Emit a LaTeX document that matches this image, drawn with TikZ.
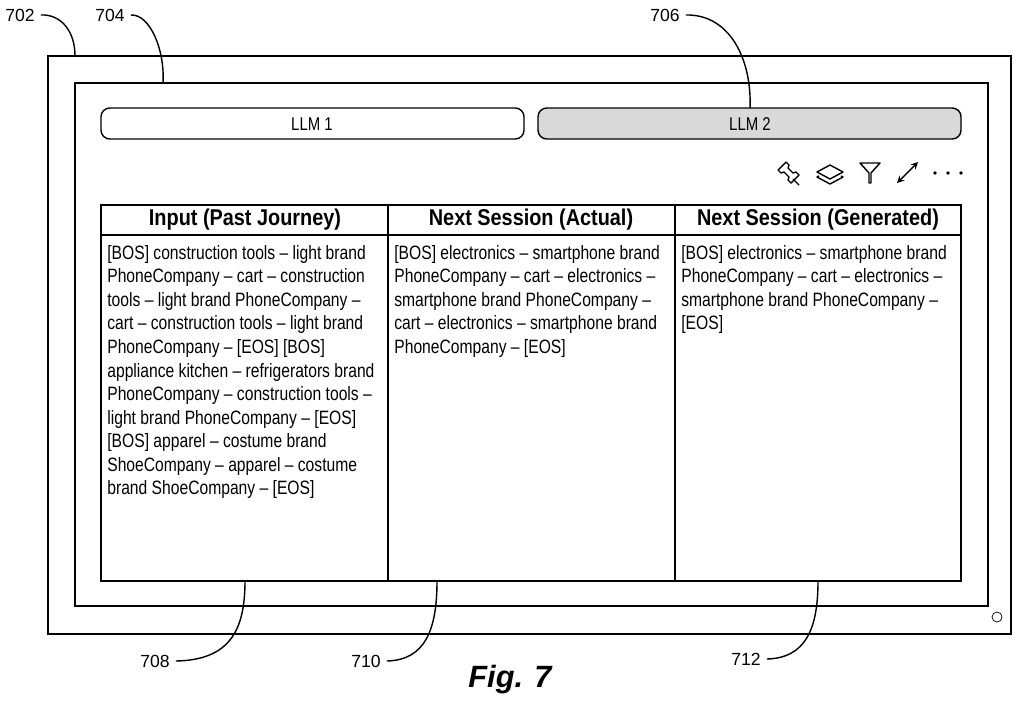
\documentclass[tikz,border=0pt]{standalone}
\usepackage{fontspec}
\setmainfont{Liberation Sans}
\newfontfamily\narrowfont{Liberation Sans}[FakeStretch=0.81, Ligatures=TeX]
\newfontfamily\headfont{Liberation Sans}[FakeStretch=0.87, Ligatures=TeX]
\tikzset{
  cell/.style = {anchor=north west, align=left, inner sep=0pt, font=\narrowfont\fontsize{11}{13.4}\selectfont},
  head/.style = {font=\headfont\fontsize{13}{15}\selectfont\bfseries},
  refnum/.style = {font=\fontsize{10}{12}\selectfont},
  leader/.style = {thick}
}
\begin{document}
\begin{tikzpicture}[x=0.02cm,y=-0.02cm]
    \useasboundingbox (0,0) rectangle (1024,707);
    \draw [thick] (48,56) rectangle (1011,634);
    \draw [thick] (75,83) rectangle (988,606);
    \draw (997,617) circle [radius = 5];
    % buttons
    \draw [thick, rounded corners=5] (101,108) rectangle (524,139);
    \draw [thick, rounded corners=5, fill=gray!30] (538,108) rectangle (961,139);
    \node (llm1) at (312,124) {\narrowfont\fontsize{10.5}{12}\selectfont LLM 1};
    \node (llm2) at (750,124) {\narrowfont\fontsize{10.5}{12}\selectfont LLM 2};
    % toolbar icons
    \draw [thick, line join=round] (778,170)--(786,162)--(789,165)--(788,168)--(793,173)--(796,172)--(799,175)--(791,183)--(788,180)--(789,177)--(784,172)--(781,173)--cycle;
    \draw [thick] (793,179)--(799,185);
    \draw [thick, line join=round] (817,172)--(830,165)--(843,172)--(830,179)--cycle;
    \draw [thick, line join=round] (819,176)--(817,177)--(830,184)--(843,177)--(841,176);
    \draw [thick, line join=round] (860,163)--(880,163)--(871,173)--(871,183)--(869,183)--(869,173)--cycle;
    \draw [thick, <->, >=stealth] (897,183)--(918,162);
    \foreach \x in {935,948,961}
      \fill (\x,173) circle [radius = 1.8];
    % table
    \draw [thick] (101,205) rectangle (961,581);
    \draw [thick] (101,235)--(961,235);
    \draw [thick] (388,205)--(388,581);
    \draw [thick] (675,205)--(675,581);
    \node [head] (h1) at (245,220) {Input (Past Journey)};
    \node [head] (h2) at (531,220) {Next Session (Actual)};
    \node [head] (h3) at (818,220) {Next Session (Generated)};
    \node [cell] (c1) at (107,245) {{[BOS]} construction tools -- light brand\\PhoneCompany -- cart -- construction\\tools -- light brand PhoneCompany --\\cart -- construction tools -- light brand\\PhoneCompany -- {[EOS]} {[BOS]}\\appliance kitchen -- refrigerators brand\\PhoneCompany -- construction tools --\\light brand PhoneCompany -- {[EOS]}\\{[BOS]} apparel -- costume brand\\ShoeCompany -- apparel -- costume\\brand ShoeCompany -- {[EOS]}};
    \node [cell] (c2) at (394,245) {{[BOS]} electronics -- smartphone brand\\PhoneCompany -- cart -- electronics --\\smartphone brand PhoneCompany --\\cart -- electronics -- smartphone brand\\PhoneCompany -- {[EOS]}};
    \node [cell] (c3) at (681,245) {{[BOS]} electronics -- smartphone brand\\PhoneCompany -- cart -- electronics --\\smartphone brand PhoneCompany --\\{[EOS]}};
    % reference numerals
    \node [refnum] (n702) at (20,15) {702};
    \node [refnum] (n704) at (110,15) {704};
    \node [refnum] (n706) at (665,15) {706};
    \node [refnum] (n708) at (155,661) {708};
    \node [refnum] (n710) at (366,661) {710};
    \node [refnum] (n712) at (746,659) {712};
    \coordinate (t702) at (75,56);
    \coordinate (t704) at (163,83);
    \coordinate (t706) at (750,108);
    \coordinate (t708) at (245,581);
    \coordinate (t710) at (437,581);
    \coordinate (t712) at (818,581);
    \draw [leader] (n702.east) .. controls (60,14) and (75,30) .. (t702);
    \draw [leader] (n704.east) .. controls (150,14) and (165,50) .. (t704);
    \draw [leader] (n706.east) .. controls (730,14) and (752,60) .. (t706);
    \draw [leader] (n708.east) .. controls (230,660) and (245,630) .. (t708);
    \draw [leader] (n710.east) .. controls (425,660) and (437,630) .. (t710);
    \draw [leader] (n712.east) .. controls (805,658) and (818,630) .. (t712);
    \node (fig) at (510,680) {\fontsize{17.5}{22}\selectfont\bfseries\itshape Fig. 7};
  \end{tikzpicture}
\end{document}
